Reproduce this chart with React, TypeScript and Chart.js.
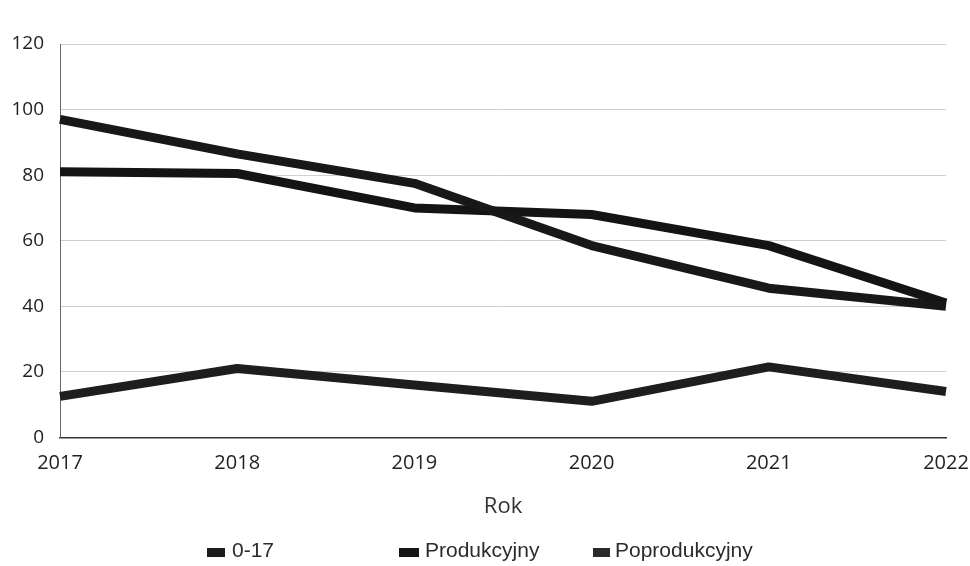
import React, { useEffect, useRef } from "react";
import { Chart, registerables } from "chart.js";

Chart.register(...registerables);

const years = ["2017", "2018", "2019", "2020", "2021", "2022"];
const seriesNames = ["0-17", "Produkcyjny", "Poprodukcyjny"];
const series0_17 = [97, 86.5, 77.5, 58.5, 45.5, 40];
const seriesProdukcyjny = [81, 80.5, 70, 68, 58.5, 41];
const seriesPoprodukcyjny = [12.5, 21, 16, 11, 21.5, 14];
const yTicks = [0, 20, 40, 60, 80, 100, 120];
const axisTitle = "Rok";

const lineColors = ["#181818", "#141414", "#1e1e1e"];
const legendBoxColors = ["#1c1c1c", "#161616", "#2a2a2a"];

const legendPlugin = {
  id: "customLegend",
  afterDraw(chart: any) {
    const ctx = chart.ctx;
    const boxXs = [207, 399, 593];
    const boxWs = [18, 20, 17];
    const textXs = [232, 425, 615];
    const y = 551;
    ctx.save();
    ctx.font = "21px 'Liberation Sans', Arial, sans-serif";
    ctx.textBaseline = "middle";
    ctx.textAlign = "left";
    chart.data.datasets.forEach((ds: any, i: number) => {
      ctx.fillStyle = legendBoxColors[i];
      ctx.fillRect(boxXs[i], y - 3, boxWs[i], 9);
      ctx.fillStyle = "#2b2b2b";
      ctx.fillText(ds.label, textXs[i], y);
    });
    ctx.restore();
  },
};

export default function App() {
  const ref = useRef<HTMLCanvasElement | null>(null);
  useEffect(() => {
    if (!ref.current) return;
    const data = [series0_17, seriesProdukcyjny, seriesPoprodukcyjny];
    const chart = new Chart(ref.current, {
      type: "line",
      data: {
        labels: years,
        datasets: seriesNames.map((name, i) => ({
          label: name,
          data: data[i],
          borderColor: lineColors[i],
          backgroundColor: lineColors[i],
          borderWidth: 9,
          pointRadius: 0,
          tension: 0,
          borderJoinStyle: "round" as const,
          borderCapStyle: "butt" as const,
          fill: false,
        })),
      },
      options: {
        animation: false,
        responsive: false,
        maintainAspectRatio: false,
        layout: { padding: { top: 44, left: 0, right: 24, bottom: 43 } },
        plugins: {
          legend: { display: false },
          tooltip: { enabled: false },
        },
        scales: {
          x: {
            type: "category",
            offset: false,
            afterFit: (scale: any) => {
              scale.paddingRight = 0;
              scale.paddingLeft = 0;
            },
            grid: { display: false, drawTicks: false },
            border: { color: "#333", width: 1.5 },
            ticks: {
              padding: 14,
              color: "#222",
              font: { family: "'Open Sans', sans-serif", size: 20 },
              maxRotation: 0,
              autoSkip: false,
            },
            title: {
              display: true,
              text: axisTitle,
              color: "#333",
              font: { family: "'Open Sans', sans-serif", size: 22 },
              padding: { top: 4.5, bottom: 2.7 },
            },
          },
          y: {
            min: 0,
            max: 120,
            afterBuildTicks: (scale: any) => {
              scale.ticks = yTicks.map((v) => ({ value: v }));
            },
            afterFit: (scale: any) => {
              scale.width = 60;
            },
            grid: { color: "#cfcfcf", lineWidth: 1, drawTicks: false },
            border: { color: "#666", width: 1 },
            ticks: {
              padding: 16,
              color: "#222",
              font: { family: "'Open Sans', sans-serif", size: 19 },
            },
          },
        },
      },
      plugins: [legendPlugin],
    });
    return () => chart.destroy();
  }, []);
  return (
    <div style={{ position: "fixed", left: 0, top: 0, width: 970, height: 566, background: "#fff" }}>
      <canvas ref={ref} width={970} height={566} style={{ width: 970, height: 566, display: "block" }} />
    </div>
  );
}
